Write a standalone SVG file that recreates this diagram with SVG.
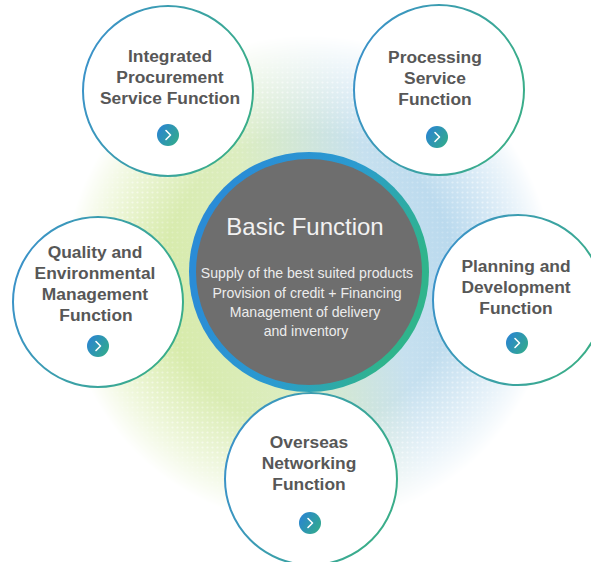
<svg xmlns="http://www.w3.org/2000/svg" width="591" height="562" viewBox="0 0 591 562">
  <defs>
    <style>
      .label { font-family: "Liberation Sans", Arial, sans-serif; font-weight: bold; font-size: 17.4px; fill: #575757; text-anchor: middle; }
      .title { font-family: "Liberation Sans", Arial, sans-serif; font-size: 24px; fill: #f2f2f2; text-anchor: middle; }
      .sub { font-family: "Liberation Sans", Arial, sans-serif; font-size: 14.1px; fill: #ececec; text-anchor: middle; }
      .ring { fill: #ffffff; stroke: url(#ringStroke); stroke-width: 2; }
      .btn { fill: url(#btnFill); }
      .chev { fill: none; stroke: #ffffff; stroke-width: 1.6; stroke-linecap: round; stroke-linejoin: round; }
    </style>
    <linearGradient id="ringStroke" x1="0" y1="0" x2="1" y2="0.3">
      <stop offset="0" stop-color="#3b8fd0"/>
      <stop offset="1" stop-color="#3aad8a"/>
    </linearGradient>
    <linearGradient id="coreRing" x1="0.15" y1="0.2" x2="0.95" y2="0.5">
      <stop offset="0" stop-color="#2a8cd6"/>
      <stop offset="0.55" stop-color="#2b9bcf"/>
      <stop offset="1" stop-color="#2fb48c"/>
    </linearGradient>
    <linearGradient id="btnFill" x1="0" y1="0.2" x2="1" y2="0.8">
      <stop offset="0" stop-color="#2a84d2"/>
      <stop offset="1" stop-color="#32ab8c"/>
    </linearGradient>
    <linearGradient id="glowTint" x1="0" y1="0.3" x2="1" y2="0.1">
      <stop offset="0" stop-color="#d3e99a"/>
      <stop offset="0.35" stop-color="#dcedbf"/>
      <stop offset="0.6" stop-color="#c6e0ef"/>
      <stop offset="1" stop-color="#a3cdeb"/>
    </linearGradient>
    <radialGradient id="glowFade" cx="0.5" cy="0.5" r="0.5">
      <stop offset="0" stop-color="#fff" stop-opacity="1"/>
      <stop offset="0.6" stop-color="#fff" stop-opacity="1"/>
      <stop offset="1" stop-color="#fff" stop-opacity="0"/>
    </radialGradient>
    <mask id="glowMask">
      <circle cx="309" cy="280" r="245" fill="url(#glowFade)"/>
    </mask>
    <pattern id="dots" width="5" height="5" patternUnits="userSpaceOnUse">
      <circle cx="2.5" cy="2.5" r="1.1" fill="#ffffff" fill-opacity="0.55"/>
    </pattern>
    <radialGradient id="dotFade" cx="0.5" cy="0.5" r="0.5">
      <stop offset="0.45" stop-color="#fff" stop-opacity="0"/>
      <stop offset="0.8" stop-color="#fff" stop-opacity="1"/>
      <stop offset="1" stop-color="#fff" stop-opacity="0"/>
    </radialGradient>
    <mask id="dotMask">
      <circle cx="309" cy="280" r="245" fill="url(#dotFade)"/>
    </mask>
  </defs>

  <rect width="591" height="562" fill="#ffffff"/>

  <!-- soft halo behind the hub -->
  <g id="halo">
    <circle cx="309" cy="280" r="245" fill="url(#glowTint)" mask="url(#glowMask)"/>
    <circle cx="309" cy="280" r="245" fill="url(#dots)" mask="url(#dotMask)"/>
  </g>

  <!-- hub -->
  <g id="basic-function">
    <circle cx="309" cy="272" r="120" fill="url(#coreRing)"/>
    <circle cx="309" cy="272" r="113" fill="#6e6e6e"/>
    <text class="title" x="305" y="235">Basic Function</text>
    <text class="sub" x="307" y="278">Supply of the best suited products</text>
    <text class="sub" x="307" y="298">Provision of credit + Financing</text>
    <text class="sub" x="305" y="317">Management of delivery</text>
    <text class="sub" x="306" y="336">and inventory</text>
  </g>

  <g id="integrated-procurement">
    <circle class="ring" cx="168" cy="91" r="85"/>
    <text class="label" x="170" y="62">Integrated</text>
    <text class="label" x="170" y="83">Procurement</text>
    <text class="label" x="170" y="104">Service Function</text>
    <circle class="btn" cx="168" cy="135" r="11"/>
    <path class="chev" d="M166 130.5 L170.5 135 L166 139.5"/>
  </g>

  <g id="processing-service">
    <circle class="ring" cx="439" cy="90" r="85"/>
    <text class="label" x="435" y="63">Processing</text>
    <text class="label" x="435" y="84">Service</text>
    <text class="label" x="435" y="105">Function</text>
    <circle class="btn" cx="437" cy="137" r="11"/>
    <path class="chev" d="M435 132.5 L439.5 137 L435 141.5"/>
  </g>

  <g id="quality-environmental">
    <circle class="ring" cx="98" cy="302" r="85"/>
    <text class="label" x="95" y="258">Quality and</text>
    <text class="label" x="95" y="279">Environmental</text>
    <text class="label" x="95" y="300">Management</text>
    <text class="label" x="96" y="321">Function</text>
    <circle class="btn" cx="98" cy="346" r="11"/>
    <path class="chev" d="M96 341.5 L100.5 346 L96 350.5"/>
  </g>

  <g id="planning-development">
    <circle class="ring" cx="518" cy="300" r="85"/>
    <text class="label" x="516" y="272">Planning and</text>
    <text class="label" x="516" y="293">Development</text>
    <text class="label" x="516" y="314">Function</text>
    <circle class="btn" cx="517" cy="343" r="11"/>
    <path class="chev" d="M515 338.5 L519.5 343 L515 347.5"/>
  </g>

  <g id="overseas-networking">
    <circle class="ring" cx="311" cy="479" r="86"/>
    <text class="label" x="309" y="448">Overseas</text>
    <text class="label" x="309" y="469">Networking</text>
    <text class="label" x="309" y="490">Function</text>
    <circle class="btn" cx="310" cy="523" r="11"/>
    <path class="chev" d="M308 518.5 L312.5 523 L308 527.5"/>
  </g>
</svg>
